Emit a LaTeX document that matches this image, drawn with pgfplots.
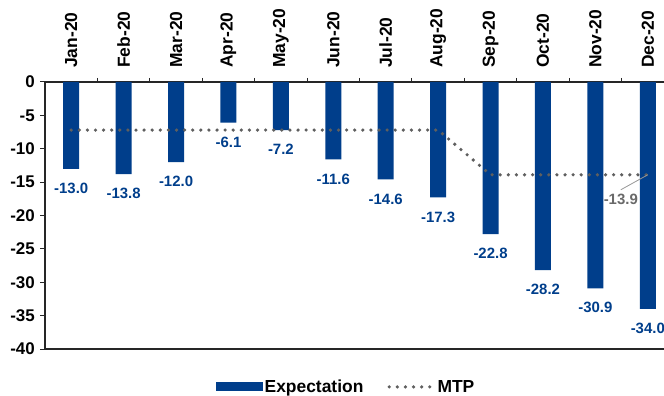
\documentclass[border=0pt]{standalone}
\usepackage{pgfplots}
\pgfplotsset{compat=1.18}
\usepackage{fontspec}
\setmainfont{Liberation Sans}
\definecolor{barblue}{RGB}{0,62,139}
\definecolor{mtpgray}{RGB}{95,95,95}
\definecolor{lblgray}{RGB}{105,105,105}
\definecolor{leadgray}{RGB}{150,150,150}
\begin{document}
\begin{tikzpicture}
\begin{axis}[
  at={(0,0)}, anchor=south west,
  scale only axis, width=629bp, height=267bp,
  xmin=-0.5, xmax=11.5, ymin=-40, ymax=0,
  clip=false,
  axis x line=top, axis y line=left,
  axis line style={-, line width=1.1bp, black!85},
  tick align=outside,
  xtick={0,...,11},
  xticklabels={Jan-20,Feb-20,Mar-20,Apr-20,May-20,Jun-20,Jul-20,Aug-20,Sep-20,Oct-20,Nov-20,Dec-20},
  minor xtick={0.5,1.5,...,10.5},
  major x tick style={draw=none},
  minor x tick style={line width=1bp, black!85},
  minor tick length=4bp,
  major tick length=5bp,
  ytick={-40,-35,...,0},
  y tick style={line width=1bp, black!85},
  /pgf/number format/assume math mode=true,
  yticklabel style={font=\fontsize{17}{17}\selectfont\bfseries, inner sep=0pt, xshift=-5bp},
  xticklabel style={rotate=90, anchor=west, font=\fontsize{17.5}{17.5}\selectfont\bfseries, inner sep=0pt},
  xticklabel shift=9bp,
  legend style={at={(0.4785,-0.142)}, anchor=center, draw=none, fill=none,
    font=\fontsize{17.5}{17.5}\selectfont\bfseries,
    /tikz/every even column/.append style={column sep=22bp}},
  legend columns=2,
  legend cell align=left,
]
\addplot[ybar, fill=barblue, draw=none, bar width=16bp,
  nodes near coords={\pgfmathprintnumber[fixed,fixed zerofill,precision=1]{\pgfplotspointmeta}},
  every node near coord/.append style={anchor=north, inner sep=0pt, yshift=-14bp,
    text=barblue, font=\fontsize{15}{15}\selectfont\bfseries},
  legend image code/.code={\fill[barblue] (0bp,-4.5bp) rectangle (47bp,4.5bp);}
] coordinates {(0,-13.0) (1,-13.8) (2,-12.0) (3,-6.1) (4,-7.2) (5,-11.6) (6,-14.6) (7,-17.3) (8,-22.8) (9,-28.2) (10,-30.9) (11,-34.0)};
\addlegendentry{Expectation}
\addplot[mtpgray, line width=3.6bp, line cap=round, dash pattern=on 0bp off 8.1bp,
  legend image code/.code={\draw[mtpgray, line width=3.6bp, line cap=round, dash pattern=on 0bp off 8.1bp] (1.5bp,0bp) -- (46bp,0bp);}
] coordinates {(0,-7.2) (1,-7.2) (2,-7.2) (3,-7.2) (4,-7.2) (5,-7.2) (6,-7.2) (7,-7.2) (8,-13.9) (9,-13.9) (10,-13.9) (11,-13.9)};
\addlegendentry{MTP}
\draw[leadgray, line width=0.8bp] (axis cs:11,-13.9) -- ++(-27bp,-15bp)
  node[anchor=north, inner sep=0pt, yshift=-4bp, text=lblgray, font=\fontsize{15}{15}\selectfont\bfseries] {-13.9};
\draw[line width=1.1bp, black!85] (axis cs:-0.5,-40) -- (axis cs:11.5,-40);
\end{axis}
\pgfresetboundingbox
\useasboundingbox (-45bp,-47bp) rectangle (619bp,349bp);
\end{tikzpicture}
\end{document}
